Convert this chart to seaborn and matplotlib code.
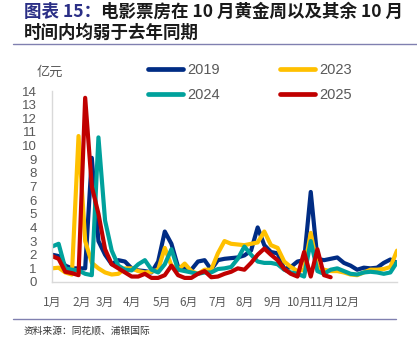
import matplotlib
matplotlib.use("Agg")
import matplotlib.pyplot as plt
import seaborn as sns
import pandas as pd
from matplotlib.lines import Line2D

# ---- data (weekly box office, 亿元) ----
years = ["2019", "2023", "2024", "2025"]
y2019 = [2.0, 1.9, 1.2, 1.0, 1.0, 1.0, 9.1, 3.0, 2.0, 1.3,
         1.6, 1.5, 1.0, 0.85, 0.8, 0.7, 1.5, 3.7, 2.8, 1.1,
         1.0, 0.9, 1.5, 1.6, 0.9, 1.6, 1.7, 1.75, 1.8, 1.95,
         2.3, 4.0, 2.7, 2.2, 2.1, 0.95, 1.1, 1.5, 1.6, 6.6,
         1.7, 1.6, 1.7, 1.8, 1.4, 1.2, 0.9, 1.05, 1.0, 1.05,
         1.4, 1.65, 1.4]
y2023 = [1.0, 1.05, 0.7, 0.55, 10.7, 3.0, 1.4, 1.0, 0.7, 0.55,
         0.6, 1.0, 1.0, 0.8, 0.7, 0.75, 0.9, 2.5, 1.2, 0.9,
         1.35, 0.8, 0.6, 0.9, 0.9, 2.1, 3.0, 2.8, 2.75, 2.7,
         2.8, 2.9, 3.7, 2.7, 2.5, 1.5, 1.1, 0.8, 0.9, 3.6,
         1.1, 0.9, 0.8, 0.8, 0.7, 0.55, 0.5, 0.7, 0.9, 0.9,
         0.95, 1.1, 2.3]
y2024 = [2.6, 2.8, 1.0, 0.9, 0.85, 0.6, 0.5, 10.6, 4.5, 2.3,
         1.2, 0.9, 0.85, 1.3, 1.6, 0.9, 0.7, 1.3, 2.4, 0.9,
         0.8, 0.7, 0.6, 0.7, 0.7, 0.95, 1.0, 1.1, 1.7, 2.6,
         2.0, 1.5, 1.4, 1.4, 1.3, 0.9, 0.7, 0.6, 0.4, 3.0,
         0.8, 0.6, 0.9, 1.0, 0.8, 0.6, 0.55, 0.7, 0.75, 0.7,
         0.6, 0.7, 1.45]
y2025 = [1.9, 1.7, 0.75, 0.65, 0.5, 13.5, 7.0, 5.0, 2.4, 1.3,
         1.0, 0.7, 0.4, 0.4, 0.6, 0.3, 0.3, 0.5, 1.2, 0.5,
         0.3, 0.3, 0.6, 0.8, 0.35, 0.4, 0.6, 0.75, 1.0, 0.9,
         1.4, 2.0, 2.45, 2.0, 1.6, 0.95, 0.6, 0.4, 2.2, 0.4,
         2.4, 0.5, 0.35]
month_labels = ["1月", "2月", "3月", "4月", "5月", "6月",
                "7月", "8月", "9月", "10月", "11月", "12月"]
month_pos = [0, 4.4, 7.9, 12.1, 16.5, 20.6, 24.9, 29.1, 33.2, 37.3, 40.8, 44.5]

series = {"2019": y2019, "2023": y2023, "2024": y2024, "2025": y2025}
rows = []
for yr in years:
    for i, v in enumerate(series[yr]):
        rows.append({"week": i, "value": v, "year": yr})
df = pd.DataFrame(rows)

palette = {"2019": "#002C84", "2023": "#FFC000", "2024": "#00A19C", "2025": "#C00000"}

sns.set_style("white")
plt.rcParams["font.family"] = ["Liberation Sans", "Noto Sans CJK SC", "DejaVu Sans"]

fig = plt.figure(figsize=(4.17, 3.49), dpi=100)
ax = fig.add_axes([52 / 417, 67 / 349, 345 / 417, 191 / 349])

sns.lineplot(data=df, x="week", y="value", hue="year", hue_order=years,
             palette=palette, linewidth=3.0, errorbar=None, ax=ax)

ax.set_xlim(0, 52)
ax.set_ylim(0, 14)
ax.set_yticks(range(0, 15))
ax.set_xticks(month_pos)
ax.set_xticklabels(month_labels)
ax.set_xlabel("")
ax.set_ylabel("")
ax.tick_params(axis="both", length=0, colors="#595959")
ax.tick_params(axis="y", labelsize=9.5, pad=11)
ax.tick_params(axis="x", labelsize=8.5, pad=10)
for lab in ax.get_xticklabels():
    lab.set_family(["Noto Sans CJK SC"])
for s in ["top", "right"]:
    ax.spines[s].set_visible(False)
for s in ["left", "bottom"]:
    ax.spines[s].set_color("#D9D9D9")
    ax.spines[s].set_linewidth(1.0)

handles, labels = ax.get_legend_handles_labels()
ax.get_legend().remove()
order = ["2019", "2024", "2023", "2025"]
new_handles = [Line2D([0], [0], color=palette[k], lw=3.4, solid_capstyle="round") for k in order]
leg = fig.legend(new_handles, order, loc="upper left", ncol=2,
                 bbox_to_anchor=(148 / 417, 1 - 63 / 349), frameon=False,
                 fontsize=10.5, handlelength=2.4, handletextpad=0.3,
                 columnspacing=4.1, labelspacing=0.75, borderpad=0, borderaxespad=0)
for t in leg.get_texts():
    t.set_color("#595959")

# unit label
fig.text(37 / 417, 1 - 72 / 349, "亿元", fontsize=9.5, color="#595959",
         va="center", ha="left", family=["Noto Sans CJK SC"])

# title
t1 = fig.text(24 / 417, 1 - 12 / 349, "图表 15：", fontsize=12.6, fontweight="bold",
              color="#2B2F86", va="center", ha="left", family=["Noto Sans CJK SC"])
fig.canvas.draw()
bb = t1.get_window_extent(renderer=fig.canvas.get_renderer())
fig.text(bb.x1 / fig.bbox.width, 1 - 12 / 349, "电影票房在 10 月黄金周以及其余 10 月",
         fontsize=12.6, fontweight="bold", color="#1A1A1A", va="center", ha="left",
         family=["Noto Sans CJK SC"])
fig.text(24 / 417, 1 - 33 / 349, "时间内均弱于去年同期", fontsize=12.6, fontweight="bold",
         color="#1A1A1A", va="center", ha="left", family=["Noto Sans CJK SC"])

# separator lines
fig.add_artist(Line2D([13 / 417, 1.0], [1 - 43.5 / 349, 1 - 43.5 / 349],
                      color="#8080B0", lw=1.0, transform=fig.transFigure))
fig.add_artist(Line2D([13 / 417, 396 / 417], [1 - 319 / 349, 1 - 319 / 349],
                      color="#8080B0", lw=1.0, transform=fig.transFigure))

# source
fig.text(24 / 417, 1 - 331 / 349, "资料来源：同花顺、浦银国际", fontsize=7, color="#333333",
         va="center", ha="left", family=["Noto Sans CJK SC"])

fig.savefig("out.png", dpi=100)
